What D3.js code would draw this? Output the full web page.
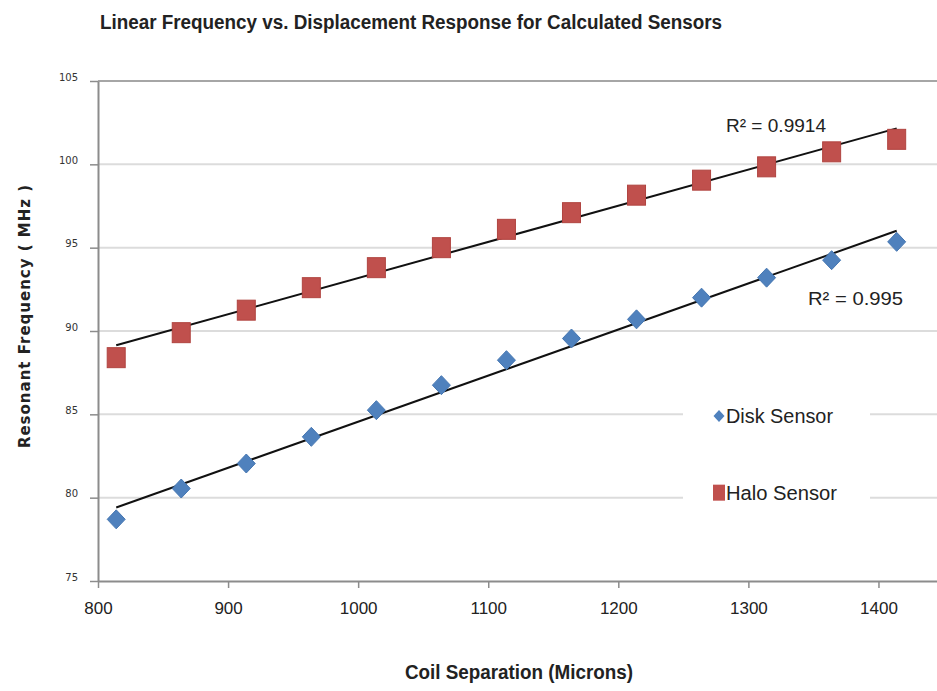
<!DOCTYPE html>
<html>
<head>
<meta charset="utf-8">
<script src="https://cdn.jsdelivr.net/npm/d3@7"></script>
<style>
  body { margin: 0; background: #fff; }
  svg { display: block; }
</style>
</head>
<body>
<div id="vis"></div>
<script>
// coil separation (microns) for each calculated point
var separation = [814, 864, 914, 964, 1014, 1064, 1114, 1164, 1214, 1264, 1314, 1364, 1414];
// resonant frequency (MHz)
var diskFreq = [78.7, 80.55, 82.05, 83.65, 85.25, 86.75, 88.25, 89.55, 90.7, 92.0, 93.2, 94.25, 95.35];
var haloFreq = [88.4, 89.9, 91.25, 92.6, 93.8, 95.0, 96.1, 97.1, 98.15, 99.05, 99.85, 100.75, 101.5];
var xTicks = [800, 900, 1000, 1100, 1200, 1300, 1400];
var yTicks = [75, 80, 85, 90, 95, 100, 105];
var seriesNames = ["Disk Sensor", "Halo Sensor"];
var r2Labels = ["R\u00B2 = 0.995", "R\u00B2 = 0.9914"];

var width = 937, height = 691;
var margin = {top: 81, right: 0, bottom: 110, left: 98};

var svg = d3.select("#vis").append("svg")
  .attr("width", width)
  .attr("height", height);

var x = d3.scaleLinear()
  .domain([800, 1445])
  .range([margin.left, width - margin.right]);

var y = d3.scaleLinear()
  .domain([75, 105])
  .range([height - margin.bottom, margin.top]);

// gridlines
svg.append("g")
  .selectAll("line")
  .data(yTicks.filter(function(d) { return d > 75; }))
  .enter().append("line")
    .attr("x1", margin.left)
    .attr("x2", width)
    .attr("y1", function(d) { return y(d); })
    .attr("y2", function(d) { return y(d); })
    .attr("stroke", function(d) { return d == 105 ? "#a6a6a6" : "#dcdcdc"; })
    .attr("stroke-width", 2);

// y axis
var yAxis = svg.append("g")
  .attr("transform", "translate(" + margin.left + ",0)")
  .call(d3.axisLeft(y).tickValues(yTicks).tickSize(8).tickPadding(12).tickSizeOuter(0));
yAxis.select(".domain").attr("stroke", "#8c8c8c").attr("stroke-width", 2);
yAxis.selectAll(".tick line").attr("stroke", "#8c8c8c").attr("stroke-width", 1.5);
yAxis.selectAll(".tick text")
  .attr("dy", "-0.1em")
  .style("font-family", "DejaVu Sans, sans-serif")
  .style("font-size", "10px")
  .style("fill", "#333");

// x axis
var xAxis = svg.append("g")
  .attr("transform", "translate(0," + y(75) + ")")
  .call(d3.axisBottom(x).tickValues(xTicks).tickFormat(d3.format("d")).tickSize(7).tickPadding(14).tickSizeOuter(0));
xAxis.select(".domain").attr("stroke", "#8c8c8c").attr("stroke-width", 2);
xAxis.selectAll(".tick line").attr("stroke", "#8c8c8c").attr("stroke-width", 1.5);
xAxis.selectAll(".tick text")
  .style("font-family", "Liberation Sans, Arial, sans-serif")
  .style("font-size", "17px")
  .style("fill", "#222");

// trendlines (least squares)
function fit(xs, ys) {
  var mx = d3.mean(xs), my = d3.mean(ys);
  var num = d3.sum(xs, function(v, i) { return (v - mx) * (ys[i] - my); });
  var den = d3.sum(xs, function(v) { return (v - mx) * (v - mx); });
  var b = num / den;
  return function(v) { return my + b * (v - mx); };
}
var line = d3.line()
  .x(function(d) { return x(d[0]); })
  .y(function(d) { return y(d[1]); });

[diskFreq, haloFreq].forEach(function(vals) {
  var f = fit(separation, vals);
  var ends = d3.extent(separation);
  svg.append("path")
    .attr("d", line([[ends[0], f(ends[0])], [ends[1], f(ends[1])]]))
    .attr("stroke", "#111")
    .attr("stroke-width", 2)
    .attr("fill", "none");
});

// halo squares
svg.append("g")
  .selectAll("rect")
  .data(haloFreq)
  .enter().append("rect")
    .attr("x", function(d, i) { return x(separation[i]) - 9; })
    .attr("y", function(d) { return y(d) - 10; })
    .attr("width", 18)
    .attr("height", 20)
    .attr("fill", "#c0504d")
    .attr("stroke", "#b04440")
    .attr("stroke-width", 1);

// disk diamonds
var diamond = "M0,-9.5L9,0L0,9.5L-9,0Z";
svg.append("g")
  .selectAll("path")
  .data(diskFreq)
  .enter().append("path")
    .attr("d", diamond)
    .attr("transform", function(d, i) { return "translate(" + x(separation[i]) + "," + y(d) + ")"; })
    .attr("fill", "#4f81bd")
    .attr("stroke", "#4677b2")
    .attr("stroke-width", 1);

// R squared labels
svg.append("text")
  .attr("x", 808).attr("y", 305)
  .attr("textLength", 95).attr("lengthAdjust", "spacingAndGlyphs")
  .style("font-family", "Liberation Sans, Arial, sans-serif")
  .style("font-size", "19px")
  .style("fill", "#222")
  .text(r2Labels[0]);
svg.append("text")
  .attr("x", 726).attr("y", 132)
  .attr("textLength", 100).attr("lengthAdjust", "spacingAndGlyphs")
  .style("font-family", "Liberation Sans, Arial, sans-serif")
  .style("font-size", "19px")
  .style("fill", "#222")
  .text(r2Labels[1]);

// legend
var legend = svg.append("g");
legend.append("rect")
  .attr("x", 683).attr("y", 388)
  .attr("width", 187).attr("height", 130)
  .attr("fill", "#fff");
legend.append("path")
  .attr("d", "M0,-6L5.5,0L0,6L-5.5,0Z")
  .attr("transform", "translate(719," + y(84.9) + ")")
  .attr("fill", "#4f81bd");
legend.append("rect")
  .attr("x", 713).attr("y", y(80.3) - 8)
  .attr("width", 12).attr("height", 16)
  .attr("fill", "#c0504d");
legend.selectAll("text.leg")
  .data(seriesNames)
  .enter().append("text")
    .attr("class", "leg")
    .attr("x", 726)
    .attr("y", function(d, i) { return i == 0 ? y(84.9) + 7 : y(80.3) + 7; })
    .attr("textLength", function(d, i) { return i == 0 ? 107 : 111; })
    .attr("lengthAdjust", "spacingAndGlyphs")
    .style("font-family", "Liberation Sans, Arial, sans-serif")
    .style("font-size", "20px")
    .style("fill", "#222")
    .text(function(d) { return d; });

// titles
svg.append("text")
  .attr("x", 100).attr("y", 29)
  .attr("textLength", 622).attr("lengthAdjust", "spacingAndGlyphs")
  .style("font-family", "Liberation Sans, Arial, sans-serif")
  .style("font-weight", "bold")
  .style("font-size", "20px")
  .style("fill", "#222")
  .text("Linear Frequency vs. Displacement Response  for  Calculated Sensors");

svg.append("text")
  .attr("x", 405).attr("y", 679)
  .attr("textLength", 228).attr("lengthAdjust", "spacingAndGlyphs")
  .style("font-family", "Liberation Sans, Arial, sans-serif")
  .style("font-weight", "bold")
  .style("font-size", "20px")
  .style("fill", "#222")
  .text("Coil Separation (Microns)");

svg.append("text")
  .attr("transform", "translate(30,316) rotate(-90)")
  .attr("text-anchor", "middle")
  .style("font-family", "DejaVu Sans, Verdana, sans-serif")
  .style("font-weight", "bold")
  .style("font-size", "15px")
  .style("letter-spacing", "1px")
  .style("fill", "#222")
  .text("Resonant Frequency ( MHz )");
</script>
</body>
</html>
